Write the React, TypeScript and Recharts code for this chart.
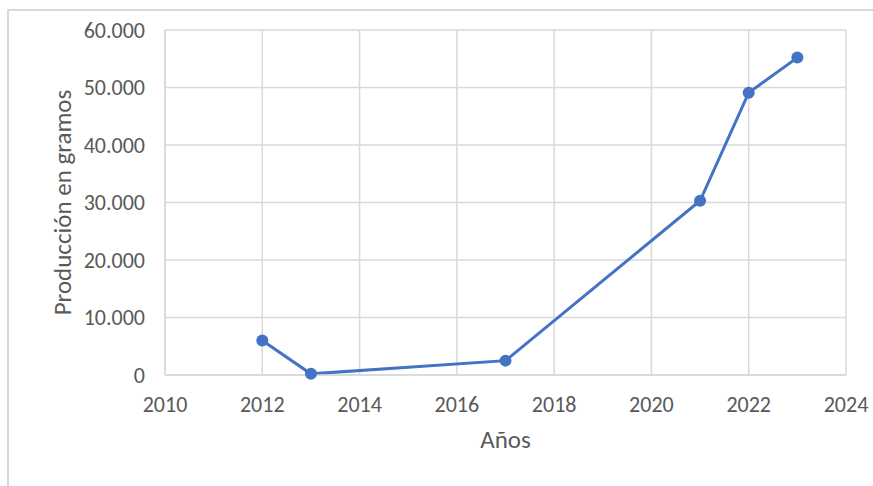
import { LineChart, Line, XAxis, YAxis, CartesianGrid, Label } from "recharts"

const years = [2012, 2013, 2017, 2021, 2022, 2023]
const produccion = [6000, 200, 2500, 30300, 49100, 55200]

const xTicks = [2010, 2012, 2014, 2016, 2018, 2020, 2022, 2024]
const yTicks = [0, 10000, 20000, 30000, 40000, 50000, 60000]

const data = years.map((y, i) => ({ anio: y, valor: produccion[i] }))

const FONT = "Calibri, Carlito, 'Open Sans', sans-serif"
const GRAY = "#595959"

const fmt = (v: number) => v.toLocaleString("de-DE")

export default function App() {
  return (
    <div
      style={{
        position: "absolute",
        left: 0,
        top: 0,
        width: 873,
        height: 486,
        overflow: "hidden",
        background: "#fff",
        fontFamily: FONT
      }}
    >
      {/* marco del gráfico (recortado a la derecha y abajo) */}
      <div
        style={{
          position: "absolute",
          left: 7,
          top: 9,
          width: 900,
          height: 520,
          border: "2px solid #d9d9d9",
          boxSizing: "border-box"
        }}
      />

      <div style={{ position: "absolute", left: 0, top: 0 }}>
        <LineChart
          width={873}
          height={486}
          data={data}
          margin={{ top: 30, right: 27, left: 0, bottom: 0 }}
        >
          <CartesianGrid stroke="#d9d9d9" strokeWidth={1.5} />
          <XAxis
            dataKey="anio"
            type="number"
            domain={[2010, 2024]}
            ticks={xTicks}
            height={111}
            tickLine={false}
            tickSize={0}
            tickMargin={21}
            axisLine={{ stroke: "#d9d9d9", strokeWidth: 1.5 }}
            tick={{ fill: GRAY, fontSize: 22, fontFamily: FONT }}
          >
            <Label
              value="Años"
              position="insideBottom"
              offset={38}
              style={{ fill: GRAY, fontSize: 25, fontFamily: FONT }}
            />
          </XAxis>
          <YAxis
            type="number"
            domain={[0, 60000]}
            ticks={yTicks}
            width={165}
            tickLine={false}
            tickSize={0}
            tickMargin={20}
            axisLine={{ stroke: "#d9d9d9", strokeWidth: 1.5 }}
            tickFormatter={fmt}
            tick={{ fill: GRAY, fontSize: 22, fontFamily: FONT }}
          >
            <Label
              value="Producción en gramos"
              angle={-90}
              position="insideLeft"
              offset={62}
              style={{ fill: GRAY, fontSize: 25, fontFamily: FONT, textAnchor: "middle" }}
            />
          </YAxis>
          <Line
            type="linear"
            dataKey="valor"
            stroke="#4472C4"
            strokeWidth={3}
            dot={{ r: 6, fill: "#4472C4", stroke: "#4472C4", strokeWidth: 0 }}
            isAnimationActive={false}
          />
        </LineChart>
      </div>
    </div>
  )
}
